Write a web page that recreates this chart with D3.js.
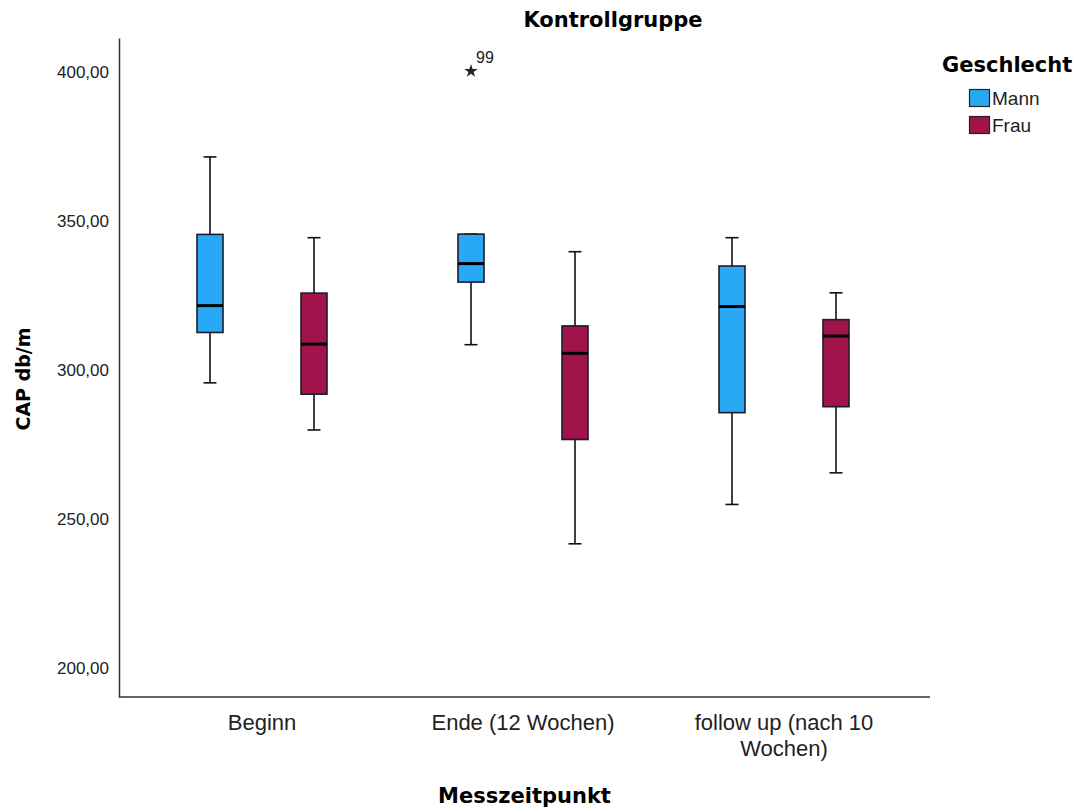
<!DOCTYPE html>
<html>
<head>
<meta charset="utf-8">
<script src="https://cdn.jsdelivr.net/npm/d3@7"></script>
<style>
  body { margin: 0; background: #fff; }
  svg { display: block; }
</style>
</head>
<body>
<div id="chart"></div>
<script>
(function () {
    // categories and groups
    const categories = ["Beginn", "Ende (12 Wochen)", "follow up (nach 10 Wochen)"];
    const categoryLines = [["Beginn"], ["Ende (12 Wochen)"], ["follow up (nach 10", "Wochen)"]];
    const groups = ["Mann", "Frau"];

    // box statistics per group, one value per category
    const mannLow = [295.7, 308.5, 254.9];
    const mannQ1 = [312.6, 329.5, 285.7];
    const mannMedian = [321.6, 335.7, 321.3];
    const mannQ3 = [345.5, 345.6, 334.9];
    const mannHigh = [371.5, 345.6, 344.4];

    const frauLow = [279.9, 241.7, 265.5];
    const frauQ1 = [291.9, 276.7, 287.7];
    const frauMedian = [308.7, 305.6, 311.4];
    const frauQ3 = [325.8, 314.8, 316.9];
    const frauHigh = [344.4, 339.7, 325.9];

    // extreme values (star) with case labels
    const extremeCategory = ["Ende (12 Wochen)"];
    const extremeGroup = ["Mann"];
    const extremeValue = [400.3];
    const extremeLabel = ["99"];

    const yTicks = [200, 250, 300, 350, 400];

    const width = 1080;
    const height = 812;

    const boxes = [];
    categories.forEach((c, i) => {
        boxes.push({ cat: c, group: "Mann", low: mannLow[i], q1: mannQ1[i], med: mannMedian[i], q3: mannQ3[i], high: mannHigh[i] });
        boxes.push({ cat: c, group: "Frau", low: frauLow[i], q1: frauQ1[i], med: frauMedian[i], q3: frauQ3[i], high: frauHigh[i] });
    });
    const extremes = extremeValue.map((v, i) => ({ cat: extremeCategory[i], group: extremeGroup[i], value: v, label: extremeLabel[i] }));

    const svg = d3.select("#chart")
        .append("svg")
        .attr("width", width)
        .attr("height", height);

    const color = d3.scaleOrdinal()
        .domain(groups)
        .range(["#29a8f5", "#a0144b"]);

    const x = d3.scaleBand()
        .domain(categories)
        .range([131.5, 914.5]);

    const xInner = d3.scalePoint()
        .domain(groups)
        .range([-52, 52]);

    const y = d3.scaleLinear()
        .domain([190.3, 411.4])
        .range([697, 38]);

    const boxW = 26;
    const capW = 13;
    const cx = d => x(d.cat) + x.bandwidth() / 2 + xInner(d.group);

    // y axis
    const fmt = v => d3.format(".2f")(v).replace(".", ",");
    const yAxis = svg.append("g")
        .attr("transform", "translate(119,0)")
        .call(d3.axisLeft(y).tickValues(yTicks).tickFormat(fmt).tickSize(0).tickSizeOuter(0).tickPadding(10));
    yAxis.select(".domain").attr("stroke", "#333").attr("stroke-width", 1.5);
    yAxis.selectAll("text")
        .attr("fill", "#222")
        .style("font-family", "'Liberation Sans', Arial, sans-serif")
        .style("font-size", "17px");

    // x axis
    svg.append("line")
        .attr("x1", 119)
        .attr("x2", 930)
        .attr("y1", y(190.3))
        .attr("y2", y(190.3))
        .attr("stroke", "#333")
        .attr("stroke-width", 1.5);

    const xLabels = svg.append("g")
        .selectAll("text")
        .data(categories)
        .enter()
        .append("text")
        .attr("x", d => x(d) + x.bandwidth() / 2)
        .attr("y", 730)
        .attr("text-anchor", "middle")
        .attr("fill", "#222")
        .style("font-family", "'Liberation Sans', Arial, sans-serif")
        .style("font-size", "22px");
    xLabels.selectAll("tspan")
        .data((d, i) => categoryLines[i].map(t => ({ t, cx: x(d) + x.bandwidth() / 2 })))
        .enter()
        .append("tspan")
        .attr("x", d => d.cx)
        .attr("dy", (d, i) => i === 0 ? 0 : 26)
        .text(d => d.t);

    // whiskers
    const bg = svg.append("g");
    bg.selectAll("line.whisker")
        .data(boxes)
        .enter()
        .append("line")
        .attr("class", "whisker")
        .attr("x1", cx)
        .attr("x2", cx)
        .attr("y1", d => y(d.low))
        .attr("y2", d => y(d.high))
        .attr("stroke", "#111")
        .attr("stroke-width", 1.6);

    ["low", "high"].forEach(k => {
        bg.selectAll("line.cap-" + k)
            .data(boxes)
            .enter()
            .append("line")
            .attr("class", "cap-" + k)
            .attr("x1", d => cx(d) - capW / 2)
            .attr("x2", d => cx(d) + capW / 2)
            .attr("y1", d => y(d[k]))
            .attr("y2", d => y(d[k]))
            .attr("stroke", "#111")
            .attr("stroke-width", 1.6);
    });

    // boxes
    bg.selectAll("rect.box")
        .data(boxes)
        .enter()
        .append("rect")
        .attr("class", "box")
        .attr("x", d => cx(d) - boxW / 2)
        .attr("width", boxW)
        .attr("y", d => y(d.q3))
        .attr("height", d => y(d.q1) - y(d.q3))
        .attr("fill", d => color(d.group))
        .attr("stroke", "#1c1c2a")
        .attr("stroke-width", 1.6);

    // medians
    bg.selectAll("line.median")
        .data(boxes)
        .enter()
        .append("line")
        .attr("class", "median")
        .attr("x1", d => cx(d) - boxW / 2)
        .attr("x2", d => cx(d) + boxW / 2)
        .attr("y1", d => y(d.med))
        .attr("y2", d => y(d.med))
        .attr("stroke", "#000")
        .attr("stroke-width", 3);

    // extreme values
    bg.selectAll("path.extreme")
        .data(extremes)
        .enter()
        .append("path")
        .attr("class", "extreme")
        .attr("transform", d => `translate(${cx(d)},${y(d.value)})`)
        .attr("d", d3.symbol().type(d3.symbolStar).size(55))
        .attr("fill", "#222");

    bg.selectAll("text.extreme-label")
        .data(extremes)
        .enter()
        .append("text")
        .attr("class", "extreme-label")
        .attr("x", d => cx(d) + 5)
        .attr("y", d => y(d.value) - 8)
        .attr("fill", "#222")
        .style("font-family", "'Liberation Sans', Arial, sans-serif")
        .style("font-size", "16px")
        .text(d => d.label);

    // titles
    const bold = "'DejaVu Sans', sans-serif";
    svg.append("text")
        .attr("x", 613)
        .attr("y", 27)
        .attr("text-anchor", "middle")
        .style("font-family", bold)
        .style("font-weight", "bold")
        .style("font-size", "21px")
        .text("Kontrollgruppe");

    svg.append("text")
        .attr("x", 524.5)
        .attr("y", 803)
        .attr("text-anchor", "middle")
        .style("font-family", bold)
        .style("font-weight", "bold")
        .style("font-size", "21px")
        .text("Messzeitpunkt");

    svg.append("text")
        .attr("transform", "translate(30,379) rotate(-90)")
        .attr("text-anchor", "middle")
        .style("font-family", bold)
        .style("font-weight", "bold")
        .style("font-size", "19px")
        .text("CAP db/m");

    // legend
    const legend = svg.append("g")
        .attr("transform", "translate(942,0)");

    legend.append("text")
        .attr("x", 0)
        .attr("y", 72)
        .style("font-family", bold)
        .style("font-weight", "bold")
        .style("font-size", "21px")
        .text("Geschlecht");

    groups.forEach((g, i) => {
        legend.append("rect")
            .attr("x", 27.5)
            .attr("y", 89.5 + i * 27)
            .attr("width", 20)
            .attr("height", 17)
            .attr("fill", color(g))
            .attr("stroke", "#222")
            .attr("stroke-width", 1.2);

        legend.append("text")
            .attr("x", 50)
            .attr("y", 105 + i * 27)
            .attr("fill", "#222")
            .style("font-family", "'Liberation Sans', Arial, sans-serif")
            .style("font-size", "19px")
            .text(g);
    });
})();
</script>
</body>
</html>
